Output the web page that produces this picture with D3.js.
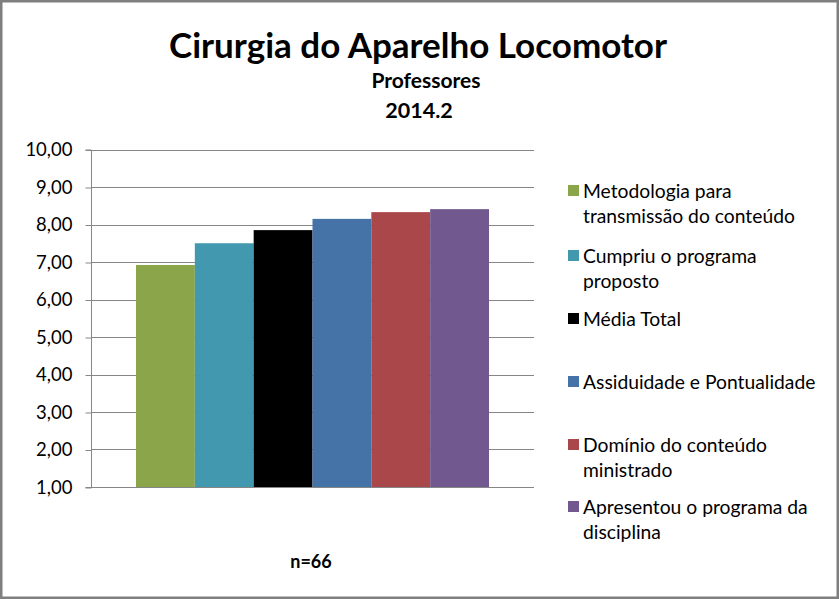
<!DOCTYPE html>
<html>
<head>
<meta charset="utf-8">
<script src="https://cdn.jsdelivr.net/npm/d3@7"></script>
<style>
html,body{margin:0;padding:0;background:#fff;}
svg{display:block;font-family:Lato, "Open Sans", sans-serif;}
</style>
</head>
<body>
<svg id="chart" width="839" height="599"></svg>
<script>
const categories = [
  "Metodologia para transmissão do conteúdo",
  "Cumpriu o programa proposto",
  "Média Total",
  "Assiduidade e Pontualidade",
  "Domínio do conteúdo ministrado",
  "Apresentou o programa da disciplina"
];
const values = [6.92, 7.50, 7.85, 8.15, 8.33, 8.41];
const colors = ["#8BA54B", "#4298AF", "#000000", "#4573A7", "#A9474A", "#71598F"];
const legendLines = [
  ["Metodologia para", "transmissão do conteúdo"],
  ["Cumpriu o programa", "proposto"],
  ["Média Total"],
  ["Assiduidade e Pontualidade"],
  ["Domínio do conteúdo", "ministrado"],
  ["Apresentou o programa da", "disciplina"]
];
const yTicks = [1,2,3,4,5,6,7,8,9,10];
const title = "Cirurgia do Aparelho Locomotor";
const subtitle1 = "Professores";
const subtitle2 = "2014.2";
const note = "n=66";

const svg = d3.select("#chart");
const W = 839, H = 599;

// frame
svg.append("rect").attr("x",1.25).attr("y",1.25).attr("width",W-2.5).attr("height",H-2.5)
  .attr("fill","#fff").attr("stroke","#7f7f7f").attr("stroke-width",2.5);

const plot = {left: 91, right: 534, top: 149.5, bottom: 487};

const y = d3.scaleLinear().domain([1,10]).range([plot.bottom, plot.top]);
const x = d3.scaleBand().domain(categories)
  .range([plot.left + 45, plot.right - 45]).padding(0);

// gridlines
svg.append("g").selectAll("line").data(yTicks.filter(d=>d>1)).join("line")
  .attr("x1", plot.left).attr("x2", plot.right)
  .attr("y1", d=>Math.round(y(d))+0.5).attr("y2", d=>Math.round(y(d))+0.5)
  .attr("stroke","#868686").attr("stroke-width",1);

// bars
svg.append("g").selectAll("rect").data(values).join("rect")
  .attr("x", (d,i)=>x(categories[i]))
  .attr("width", x.bandwidth())
  .attr("y", d=>y(d))
  .attr("height", d=>y(1)-y(d))
  .attr("fill", (d,i)=>colors[i]);

// y axis
const yAxis = d3.axisLeft(y).tickValues(yTicks).tickSize(6).tickPadding(13)
  .tickFormat(d=>d3.format(".2f")(d).replace(".",","));
const gy = svg.append("g").attr("transform",`translate(${plot.left+0.5},0.5)`).call(yAxis);
gy.select(".domain").attr("stroke","#868686").attr("d", `M-6,${y(10)}H0V${y(1)}H-6`);
gy.selectAll(".tick line").attr("stroke","#868686");
gy.selectAll(".tick text").attr("font-family","Lato, sans-serif").attr("font-size",18.5).attr("fill","#000");

// x axis line
svg.append("line").attr("x1",plot.left).attr("x2",plot.right)
  .attr("y1",Math.round(y(1))+0.5).attr("y2",Math.round(y(1))+0.5)
  .attr("stroke","#868686");

// titles
svg.append("text").attr("x",418).attr("y",58).attr("text-anchor","middle")
  .attr("font-weight","bold").attr("font-size",35).text(title);
svg.append("text").attr("x",426).attr("y",88).attr("text-anchor","middle")
  .attr("font-weight","bold").attr("font-size",21).text(subtitle1);
svg.append("text").attr("x",419).attr("y",118).attr("text-anchor","middle")
  .attr("font-weight","bold").attr("font-size",21.5).text(subtitle2);

// note
svg.append("text").attr("x",311).attr("y",568).attr("text-anchor","middle")
  .attr("font-weight","bold").attr("font-size",18).text(note);

// legend
const legendY = [191, 256, 319, 382, 445, 507];
const lg = svg.append("g");
legendLines.forEach((lines,i)=>{
  const g = lg.append("g").attr("transform",`translate(568,${legendY[i]})`);
  g.append("rect").attr("x",0).attr("y",-6).attr("width",11).attr("height",11).attr("fill",colors[i]);
  lines.forEach((t,j)=>{
    g.append("text").attr("x",15).attr("y",j*25+7).attr("font-size",19.3).attr("fill","#000").text(t);
  });
});
</script>
</body>
</html>
